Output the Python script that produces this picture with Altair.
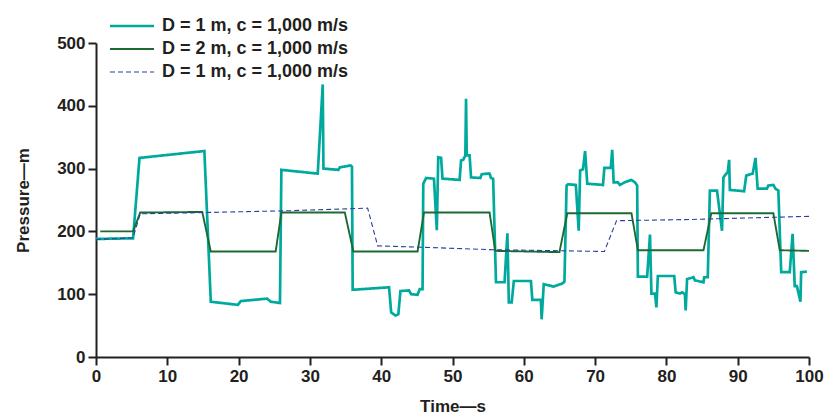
import altair as alt
import pandas as pd

# ---- data ----
teal_t = [0, 5.2, 6.1, 15.2, 16.1, 19.9, 20.3, 24, 24.5, 25.8, 26, 31.1, 31.8, 31.9, 34, 34.2, 35.7, 35.9,
          36, 41.1, 41.4, 42, 42.4, 42.7, 43.9, 44.2, 45.1, 45.4, 45.8, 45.9, 46.3, 47.4, 47.8, 48, 48.4,
          48.6, 51, 51.2, 51.5, 51.8, 51.9, 52, 52.4, 52.6, 53.9, 54.1, 54.9, 55.2, 55.4, 55.7, 56.1, 57.3,
          57.7, 57.9, 58.3, 58.6, 61, 61.2, 62.4, 62.5, 62.8, 63.9, 64.1, 65.4, 65.7, 66, 66.2, 67.3, 67.7,
          67.9, 68.3, 68.6, 68.9, 71.1, 71.3, 72.2, 72.4, 72.6, 73.2, 73.5, 74.1, 75.1, 75.6, 75.9, 76, 77.3,
          77.7, 77.9, 78.4, 78.6, 78.8, 81.1, 81.3, 81.9, 82.2, 82.6, 82.7, 82.9, 83.8, 84, 85.2, 85.3, 85.8,
          86.1, 87.1, 87.8, 88, 88.4, 88.6, 88.8, 88.9, 90.9, 91.2, 92.1, 92.5, 92.8, 94.1, 94.3, 95, 95.3,
          95.7, 96.1, 97.3, 97.7, 98, 98.3, 98.8, 98.9, 99.7]
teal_p = [188, 189, 317, 328, 88, 83, 89, 93, 88, 86, 298, 292, 434, 300, 298, 302, 305, 303,
          107, 111, 71, 66, 68, 105, 106, 100, 99, 108, 108, 276, 285, 284, 202, 318, 317,
          284, 282, 313, 314, 321, 411, 321, 321, 286, 285, 291, 292, 292, 285, 284, 119, 119,
          197, 87, 87, 121, 121, 91, 91, 60, 116, 113, 112, 117, 120, 273, 275, 274, 201,
          297, 299, 328, 276, 274, 301, 301, 330, 278, 278, 274, 278, 282, 278, 273, 128, 128,
          195, 101, 101, 79, 129, 129, 103, 101, 103, 100, 74, 124, 127, 122, 119, 127, 127,
          265, 265, 201, 286, 292, 294, 314, 266, 264, 289, 292, 317, 268, 268, 273, 274, 268,
          265, 135, 135, 196, 113, 113, 88, 135, 136]

green_t = [0.6, 5.2, 6.2, 14.9, 16.1, 25.2, 26, 34.9, 36.1, 45.1, 46, 55.2, 56, 65, 66.1, 75.1,
           76, 85.2, 86.3, 95, 95.9, 100]
green_p = [200, 200, 230, 231, 168, 168, 230, 230, 168, 168, 230, 230, 169, 167, 229, 229,
           170, 170, 229, 229, 170, 169]

blue_t = [0, 5.2, 6.2, 15.1, 27.3, 38.1, 39.5, 45.1, 55.2, 71.3, 73, 83.5, 100]
blue_p = [187, 190, 228, 230, 233, 237, 177, 175, 171, 168, 217, 219, 224]

series_keys = ["s1", "s2", "s3"]
series_labels = ["D = 1 m, c = 1,000 m/s", "D = 2 m, c = 1,000 m/s", "D = 1 m, c = 1,000 m/s"]
series_colors = ["#00a99d", "#1c6a33", "#2b3f9e"]
series_widths = [2.7, 1.1, 1.2]
series_dashes = [[1, 0], [1, 0], [5, 3]]

x_ticks = list(range(0, 101, 10))
y_ticks = [0, 100, 200, 300, 400, 500]

rows = []
for key, ts, ps in zip(series_keys, [teal_t, green_t, blue_t], [teal_p, green_p, blue_p]):
    for i, (t, p) in enumerate(zip(ts, ps)):
        rows.append({"series": key, "t": t, "p": p, "idx": i})
df = pd.DataFrame(rows)

label_expr = " : ".join(
    [f"datum.label == '{k}' ? '{l}'" for k, l in zip(series_keys, series_labels)]
) + " : ''"

FONT = "Liberation Sans, Arial, sans-serif"

legend = alt.Legend(
    title=None, orient="none", legendX=27, legendY=-26, padding=0,
    labelExpr=label_expr, symbolType="M-4,0H4", symbolSize=121,
    labelFont=FONT, labelFontSize=18, labelFontWeight="bold", labelColor="#231f20",
    labelOffset=21, rowPadding=5, labelLimit=400, symbolFillColor="transparent",
)

chart = alt.Chart(df).mark_line(strokeJoin="miter", strokeMiterLimit=2).encode(
    x=alt.X("t:Q", scale=alt.Scale(domain=[0, 100], nice=False),
            axis=alt.Axis(values=x_ticks, title="Time—s", titlePadding=14)),
    y=alt.Y("p:Q", scale=alt.Scale(domain=[0, 500], nice=False),
            axis=alt.Axis(values=y_ticks, title="Pressure—m", titlePadding=24)),
    color=alt.Color("series:N", scale=alt.Scale(domain=series_keys, range=series_colors), legend=legend),
    strokeWidth=alt.StrokeWidth("series:N", scale=alt.Scale(domain=series_keys, range=series_widths), legend=legend),
    strokeDash=alt.StrokeDash("series:N", scale=alt.Scale(domain=series_keys, range=series_dashes), legend=legend),
    order="idx:Q",
    detail="series:N",
).properties(
    width=713, height=314,
    autosize=alt.AutoSizeParams(type="none"),
    padding={"left": 96, "top": 43, "right": 24, "bottom": 62},
).configure_view(stroke=None).configure_axis(
    grid=False, domainColor="#231f20", domainWidth=2, tickColor="#231f20", tickWidth=2,
    tickSize=8, labelFont=FONT, labelFontSize=17, labelFontWeight="bold", labelColor="#231f20",
    labelPadding=3, titleFont=FONT, titleFontSize=17, titleFontWeight="bold", titleColor="#231f20",
    labelFlush=False, labelOverlap=False,
)

chart.save("out.html", embed_options={"renderer": "svg", "actions": False})
